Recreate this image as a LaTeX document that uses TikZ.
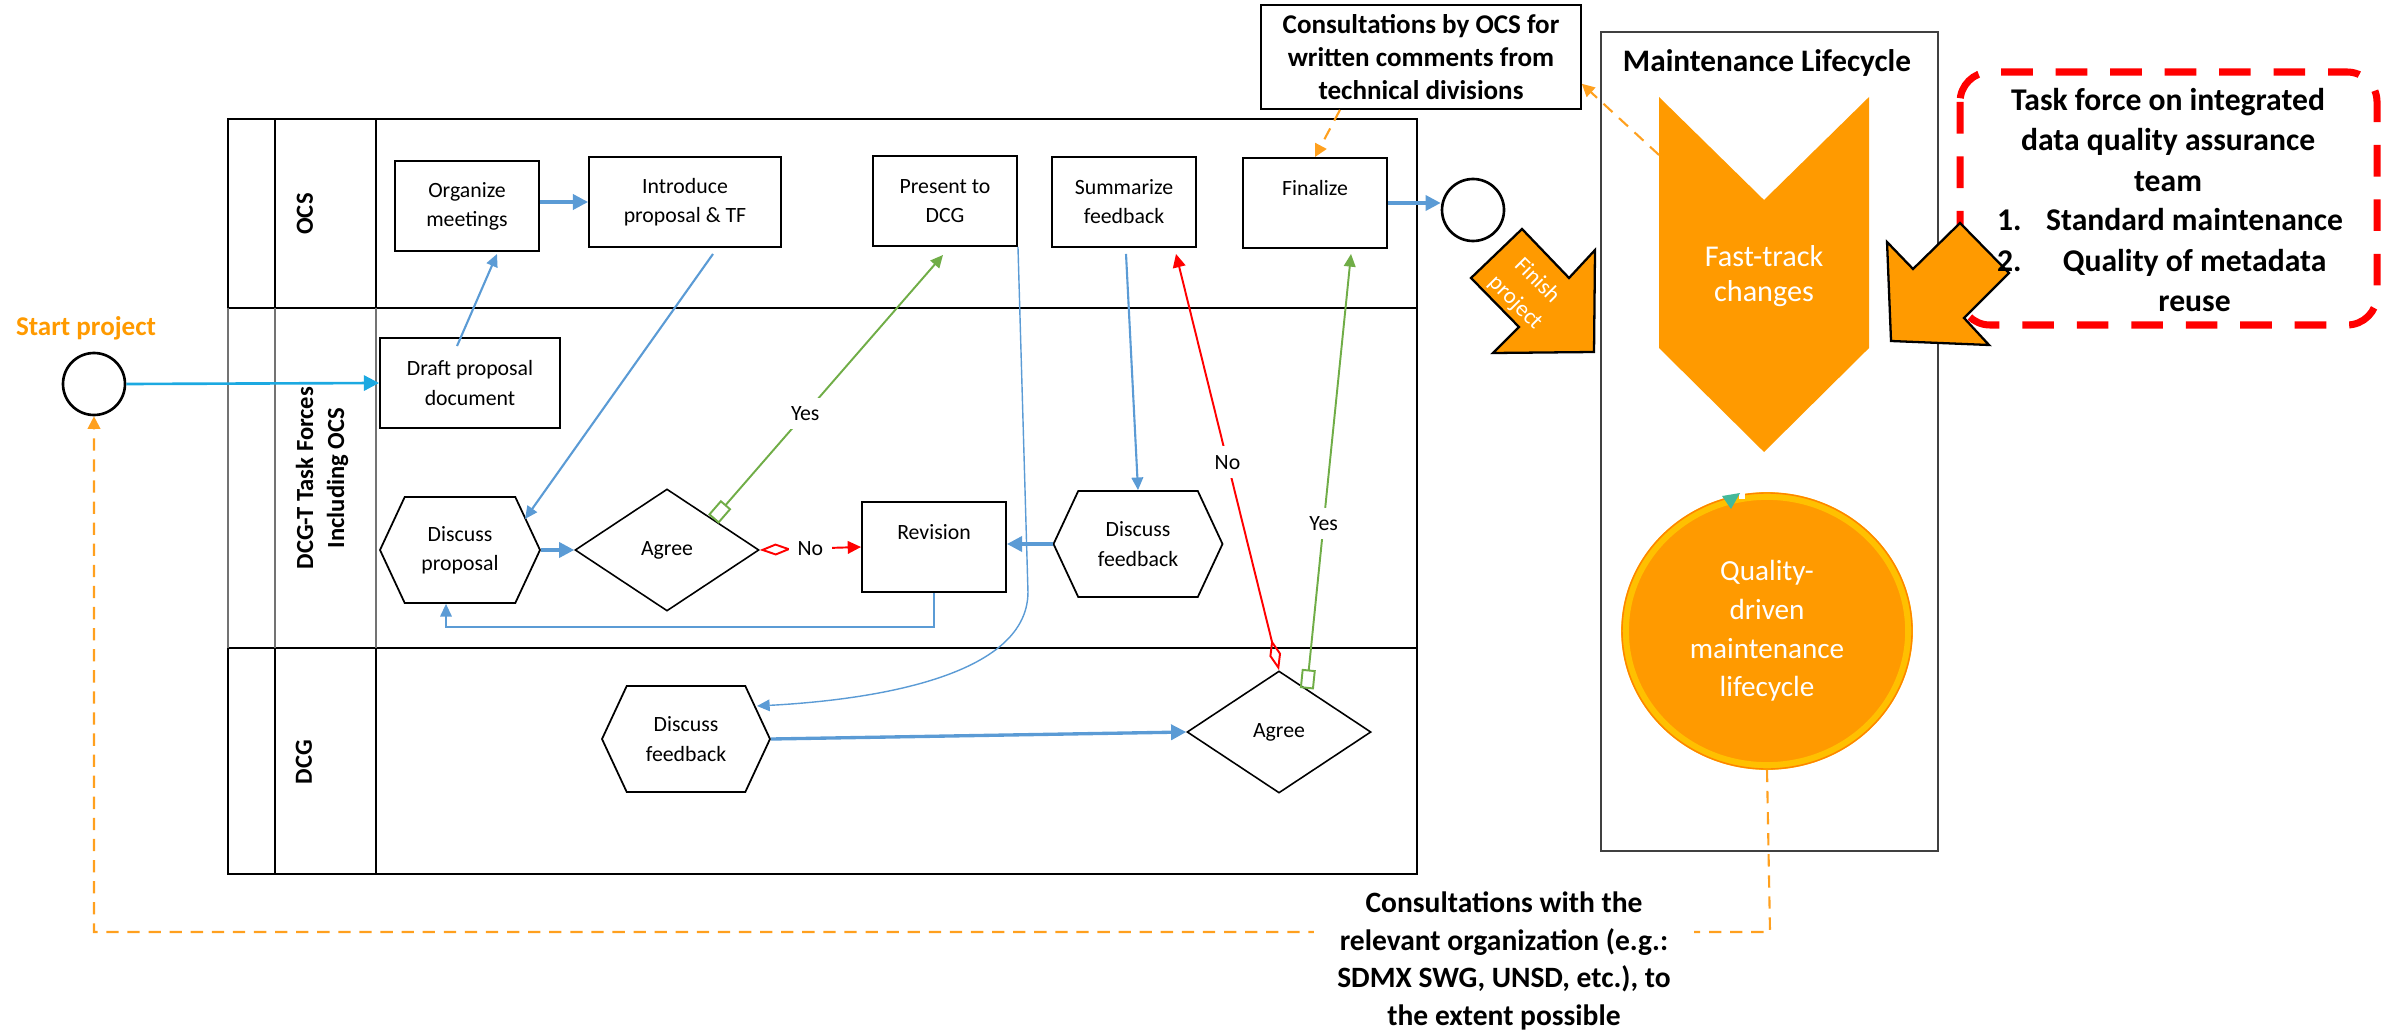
\documentclass[tikz,border=0pt]{standalone}
\usepackage{fontspec}
\setmainfont{Carlito}
\usetikzlibrary{arrows.meta, shapes.geometric, shapes.symbols, calc, positioning}
\definecolor{flowblue}{HTML}{5B9BD5}
\definecolor{startcyan}{HTML}{1CA9E1}
\definecolor{yesgreen}{HTML}{70AD47}
\definecolor{nored}{HTML}{FF0000}
\definecolor{mtorange}{HTML}{FF9A00}
\definecolor{dashorange}{HTML}{FFA01E}
\definecolor{ringyellow}{HTML}{FFC000}
\definecolor{ringteal}{HTML}{43B99A}

\begin{document}
\begin{tikzpicture}[x=0.1mm, y=-0.1mm,
    boxtext/.style={font=\fontsize{6.2}{8.3}\selectfont, align=center, inner sep=0pt},
    procbox/.style={boxtext, draw, line width=0.55pt, minimum width=14.4mm, minimum height=9mm},
    hexbox/.style={boxtext, draw, line width=0.5pt, signal, signal to=west and east,
      signal pointer angle=130, minimum height=10.6mm},
    decision/.style={boxtext, draw, line width=0.45pt, diamond, aspect=1.5,
      minimum width=18.4mm, minimum height=12.2mm},
    eventc/.style={circle, draw, line width=0.75pt, minimum size=6.2mm, inner sep=0pt},
    startflow/.style={draw=startcyan, line width=0.75pt, -{Triangle[length=4.3pt,width=4.3pt]}},
    thickflow/.style={draw=flowblue, line width=0.95pt, -{Triangle[length=4.3pt,width=4.3pt]}},
    flow/.style={draw=flowblue, line width=0.6pt, -{Triangle[length=3.6pt,width=3.3pt]}},
    thinflow/.style={draw=flowblue, line width=0.4pt, -{Triangle[length=3.6pt,width=3.3pt]}},
    yesline/.style={draw=yesgreen, line width=0.55pt,
      {Rectangle[open,length=5.5pt,width=4pt]}-{Triangle[length=3.6pt,width=3.3pt]}},
    noline/.style={draw=nored, line width=0.55pt,
      {Diamond[open,length=9pt,width=3.4pt]}-{Triangle[length=3.8pt,width=3.6pt]}},
    orangedash/.style={draw=dashorange, line width=0.6pt, dash pattern=on 3.5pt off 2.5pt,
      -{Triangle[length=3.6pt,width=3.6pt]}},
    lbl/.style={font=\fontsize{6.2}{8}\selectfont, fill=white, inner sep=2.5pt},
    lanelabel/.style={font=\bfseries\fontsize{7}{8.8}\selectfont, rotate=90, align=center},
    blockarrow/.style={fill=mtorange, draw=black, line width=0.65pt, line join=miter}
  ]
  \useasboundingbox (0,0) rectangle (2395,1030);

  % pool and lanes
  \draw[line width=0.8pt] (228,308) -- (228,119) -- (1417,119) -- (1417,874) -- (228,874) -- (228,648);
  \draw[line width=0.8pt] (228,308) -- (1417,308) (228,648) -- (1417,648);
  \draw[line width=0.6pt] (275,119) -- (275,308) (376,119) -- (376,308);
  \draw[line width=0.6pt] (275,648) -- (275,874) (376,648) -- (376,874);
  \draw[line width=0.35pt, draw=black!55] (228,308) -- (228,648) (275,308) -- (275,648) (376,308) -- (376,648);
  \node[lanelabel] (laneocs) at (305,214) {OCS};
  \node[lanelabel] (lanetf) at (322,478) {DCG-T Task Forces\\Including OCS};
  \node[lanelabel] (lanedcg) at (304,762) {DCG};

  % steps
  \node[procbox] (orgmeet) at (467,206) {Organize\\meetings};
  \node[procbox, minimum width=19.2mm] (introprop) at (685,202) {Introduce\\proposal \& TF};
  \node[procbox] (presdcg) at (945,201) {Present to\\DCG};
  \node[procbox] (summfb) at (1124,202) {Summarize\\feedback};
  \node[procbox] (finalize) at (1315,203) {Finalize\\\phantom{X}};
  \node[procbox, minimum width=18mm] (draftdoc) at (470,383) {Draft proposal\\document};
  \node[hexbox, minimum width=16mm] (discprop) at (460,550) {Discuss\\proposal};
  \node[decision] (agreetf) at (667,550) {Agree};
  \node[procbox] (revision) at (934,547) {Revision\\\phantom{X}};
  \node[hexbox, minimum width=16.9mm] (discfbtf) at (1138,544) {Discuss\\feedback};
  \node[hexbox, minimum width=16.8mm] (discfbdcg) at (686,739) {Discuss\\feedback};
  \node[decision] (agreedcg) at (1279,732) {Agree};
  \node[eventc] (startev) at (94,384) {};
  \node[eventc] (endev) at (1473,210) {};
  \node[font=\bfseries\fontsize{7.7}{9}\selectfont, text=mtorange] (starttxt) at (86,328) {Start project};

  % connectors
  \draw[startflow] (startev.east) -- (draftdoc.west);
  \draw[flow] ($(draftdoc.north)+(-13,9)$) -- ($(orgmeet.south)+(30,2)$);
  \draw[thickflow] (orgmeet.east |- introprop.west) -- (introprop.west);
  \draw[flow] ($(introprop.south)+(28,6)$) -- ($(discprop)+(65,-31)$);
  \draw[thickflow] (discprop.east) -- (agreetf.west);
  \draw[noline] (agreetf.east) -- node[lbl] {No} (revision.west);
  \draw[yesline] (agreetf.north east) -- node[lbl, pos=0.4] {Yes} ($(presdcg.south)+(-2,8)$);
  \draw[thinflow] (revision.south) -- ++(0,34) -| ($(discprop.south)+(-14,0)$);
  \draw[thickflow] (discfbtf.west) -- (discfbtf.west -| revision.east);
  \draw[flow] ($(summfb.south)+(2,6)$) -- (discfbtf.north);
  \draw[thinflow] (presdcg.south east) -- ++(10,345) .. controls +(0,90) and +(95,-5) .. ($(discfbdcg)+(71,-33)$);
  \draw[thickflow] (discfbdcg.east) -- (agreedcg.west);
  \draw[noline] (agreedcg.north) -- node[lbl] {No} ($(summfb.south)+(52,6)$);
  \draw[yesline] ($(agreedcg.north)!0.3!(agreedcg.east)$) -- node[lbl, pos=0.38] {Yes} ($(finalize.south)+(36,5)$);
  \draw[thickflow] (finalize.east) -- (finalize.east -| endev.west);

  % consultations by OCS
  \node[draw, line width=0.45pt, minimum width=32mm, minimum height=10.4mm, inner sep=0pt, align=center,
    font=\bfseries\fontsize{7.7}{9.5}\selectfont] (consultocs) at (1421,57)
    {Consultations by OCS for\\written comments from\\technical divisions};
  \draw[orangedash] ($(consultocs.south)+(-81,0)$) -- (finalize.north);

  % maintenance lifecycle
  \draw[line width=0.4pt, draw=black!75] (1601,32) rectangle (1938,851);
  \node[font=\bfseries\fontsize{8.9}{10}\selectfont] (mttitle) at (1767,63) {Maintenance Lifecycle};
  \fill[mtorange] (1659,97) -- (1764,200) -- (1869,97) -- (1869,348) -- (1764,452) -- (1659,348) -- cycle;
  \node[text=white, align=center, font=\fontsize{8.6}{10}\selectfont] (fasttrack) at (1764,276) {Fast-track\\changes};
  \coordinate (chevleft) at (1659,155);
  \draw[orangedash] (chevleft) -- ($(consultocs.south east)+(0,-26)$);

  \node[ellipse, fill=mtorange, draw=ringyellow, line width=2.2pt, minimum width=28.4mm, minimum height=27mm,
    inner sep=0pt, text=white, align=center, font=\fontsize{8.3}{11}\selectfont] (quality) at (1767,631)
    {Quality-\\driven\\maintenance\\lifecycle};
  \draw[mtorange!85!red, line width=0.4pt] (quality.center) ellipse [x radius=145, y radius=138];
  \fill[white] (1739,489) -- (1745,489) -- (1745,499) -- (1739,499) -- cycle;
  \fill[ringteal] (1722,496) -- (1740,493) -- (1731,509) -- cycle;

  % finish project
  \draw[blockarrow] (1522,229) -- (1569,278) -- (1595,250) -- (1594,352) -- (1493,353) -- (1519,327) -- (1471,278) -- cycle;
  \node[text=white, rotate=-45, align=center, font=\fontsize{6.5}{8.7}\selectfont] (finishtxt) at (1526,292) {Finish\\project};

  % task force
  \draw[nored, line width=2pt, dash pattern=on 9pt off 6.5pt, rounded corners=3mm] (1960,72) rectangle (2377,325);
  \draw[blockarrow] (1960,223) -- (2009,273) -- (1964,318) -- (1989,345) -- (1891,341) -- (1887,242) -- (1913,269) -- cycle;
  \node[font=\bfseries\fontsize{9}{11.6}\selectfont, align=center] (tftitle) at (2168,140)
    {Task force on integrated\\data quality assurance\\team};
  \node[font=\bfseries\fontsize{9}{11.6}\selectfont, inner sep=0pt] (tfitems) at (2170,263)
    {\begin{tabular}{@{}r@{\hspace{7pt}}c@{}}1. & Standard maintenance\\2. & Quality of metadata\\ & reuse\end{tabular}};

  % consultations with organizations
  \coordinate (consultbend) at (1770,932);
  \draw[orangedash] (quality.south) -- (consultbend) -- (consultbend -| startev) -- (startev.south);
  \node[fill=white, inner xsep=6.5pt, inner ysep=1pt, align=center, font=\bfseries\fontsize{8.4}{10.7}\selectfont]
    (consultorg) at (1504,961)
    {Consultations with the\\relevant organization (e.g.:\\SDMX SWG, UNSD, etc.), to\\the extent possible};
\end{tikzpicture}
\end{document}
